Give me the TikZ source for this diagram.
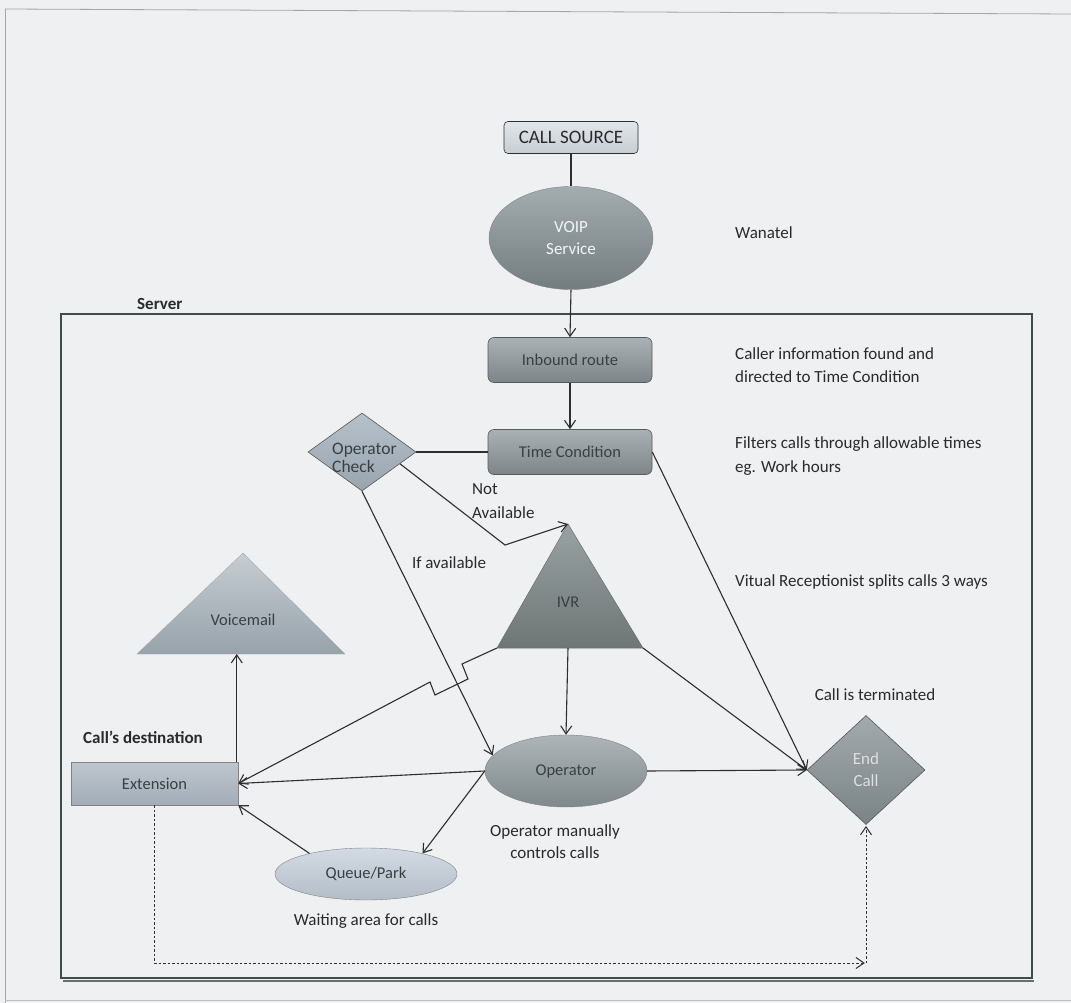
\documentclass[tikz,border=0pt]{standalone}
\usepackage{fontspec}
\setmainfont{Carlito}
\usetikzlibrary{arrows.meta,shapes.geometric,calc}
\definecolor{bgc}{HTML}{EEF0F1}
\definecolor{linec}{HTML}{2E2E2E}
\definecolor{srvc}{HTML}{3F4C49}
\definecolor{txtc}{HTML}{2A2A2A}
\definecolor{nodetxt}{HTML}{3A3F42}
% shading pairs
\definecolor{csHi}{HTML}{E2E6EA}\definecolor{csLo}{HTML}{C6CDD3}
\definecolor{voipHi}{HTML}{A3ACAE}\definecolor{voipLo}{HTML}{737D80}
\definecolor{boxHi}{HTML}{ABB2B5}\definecolor{boxLo}{HTML}{7C8487}
\definecolor{opcHi}{HTML}{B6C1CA}\definecolor{opcLo}{HTML}{98A4AE}
\definecolor{ecHi}{HTML}{A2AAAD}\definecolor{ecLo}{HTML}{7A8385}
\definecolor{opHi}{HTML}{ADB5B8}\definecolor{opLo}{HTML}{7F888B}
\definecolor{qpHi}{HTML}{D3DAE2}\definecolor{qpLo}{HTML}{B3BDC8}
\definecolor{extHi}{HTML}{BEC6CE}\definecolor{extLo}{HTML}{A3ADB7}
\definecolor{ivrHi}{HTML}{99A2A2}\definecolor{ivrLo}{HTML}{6E7776}
\definecolor{vmHi}{HTML}{C6CDD3}\definecolor{vmLo}{HTML}{97A2AA}
\tikzset{
  lnk/.style={draw=linec, line width=1.1pt},
  arr/.style={lnk, -{Straight Barb[length=8pt,width=11pt,line width=1.1pt]}},
  dsh/.style={draw=linec, line width=1pt, dash pattern=on 2.5pt off 2pt, -{Straight Barb[length=8pt,width=11pt,line width=1pt,sep]}},
  shd/.style={top color=#1Hi, bottom color=#1Lo},
  rbox/.style={shd=#1, draw=linec!80, line width=0.6pt, rounded corners=6pt, inner sep=0pt,
     text=nodetxt, font=\fontsize{16.5}{20}\selectfont},
  ell/.style={shd=#1, ellipse, draw=linec!60, line width=0.4pt, inner sep=0pt,
     text=nodetxt, font=\fontsize{16.5}{20}\selectfont, align=center},
  dia/.style={shd=#1, diamond, draw=linec!80, line width=0.6pt, inner sep=0pt, aspect=1.4,
     text=nodetxt, font=\fontsize{17}{22}\selectfont, align=center},
  note/.style={text=txtc, font=\fontsize{17}{23.5}\selectfont, align=left, inner sep=0pt},
  cnote/.style={text=txtc, font=\fontsize{17}{22}\selectfont, align=center, inner sep=0pt},
  bnote/.style={text=txtc, font=\bfseries\fontsize{17}{20}\selectfont, inner sep=0pt},
}
\begin{document}
\begin{tikzpicture}[x=1pt,y=-1pt]
\useasboundingbox (0,0) rectangle (1071,1003);
\fill[bgc] (0,0) rectangle (1071,1003);
% outer page frame
\draw[gray!70, line width=0.8pt] (5,9) -- (1071,14);
\draw[gray!70, line width=0.8pt] (5,9) -- (5,1003);
\draw[gray!50, line width=0.6pt] (5,1000) -- (1071,1000);
% server box
\draw[srvc, line width=2.4pt] (61,314) rectangle (1032,978);
\draw[srvc!80, line width=2pt] (63,981) -- (1034,981);
\node[bnote, anchor=south west] (srvlbl) at (137,310) {Server};

% nodes
\node[rbox=cs, draw=linec, minimum width=134pt, minimum height=32pt, rounded corners=4pt,
      font=\fontsize{19}{22}\selectfont, text=txtc] (cs) at (571,137.5) {CALL SOURCE};
\node[ell=voip, minimum width=164pt, minimum height=103pt, text=white!92!gray, font=\fontsize{17}{22}\selectfont] (voip) at (571,238) {VOIP\\Service};
\node[rbox=box, minimum width=164pt, minimum height=45pt] (inb) at (570,360) {Inbound route};
\node[rbox=box, minimum width=164pt, minimum height=45pt] (tc) at (570,452) {Time Condition};
\node[dia=opc, minimum width=108pt, minimum height=78pt] (opc) at (362,452) {};
\node[text=nodetxt, font=\fontsize{17.5}{17.5}\selectfont, align=left, inner sep=0pt, anchor=west] (opct) at (332,458) {Operator\\Check};
\node[dia=ec, minimum width=118pt, minimum height=109pt, text=gray!25] (ec) at (866,770) {End\\Call};
\node[ell=op, minimum width=162pt, minimum height=72pt] (op) at (566,771) {Operator};
\node[ell=qp, minimum width=182pt, minimum height=52pt] (qp) at (366,874) {Queue/Park};
\node[shd=ext, rectangle, draw=linec!60, line width=0.5pt, inner sep=0pt, minimum width=167pt, minimum height=43pt,
      text=nodetxt, font=\fontsize{16.5}{20}\selectfont] (ext) at (154.5,783.5) {Extension};

% triangles
\coordinate (ivrtop) at (568,524);
\coordinate (ivrbl) at (497,648);
\coordinate (ivrbr) at (643,648);
\coordinate (ivrbm) at (568,648);
\path[shd=ivr, draw=linec!70, line width=0.5pt] (ivrtop) -- (ivrbr) -- (ivrbl) -- cycle;
\node[text=nodetxt, font=\fontsize{16.5}{20}\selectfont] (ivr) at (568,602) {IVR};
\coordinate (vmtop) at (243,553);
\coordinate (vmbl) at (137,654);
\coordinate (vmbr) at (345,654);
\path[shd=vm, draw=linec!40, line width=0.4pt] (vmtop) -- (vmbr) -- (vmbl) -- cycle;
\node[text=nodetxt, font=\fontsize{16.5}{20}\selectfont] (vm) at (243,620) {Voicemail};

% notes
\node[note, anchor=west] (n1) at (735,233) {Wanatel};
\node[note, anchor=west] (n2) at (735,365) {Caller information found and\\directed to Time Condition};
\node[note, anchor=west] (n3) at (735,456) {Filters calls through allowable times\\eg. Work hours};
\node[note, anchor=west] (n4) at (735,582) {Vitual Receptionist splits calls 3 ways};
\node[note, anchor=west] (n5) at (472,501) {Not\\Available};
\node[note] (n6) at (449,563) {If available};
\node[note] (n7) at (875,695) {Call is terminated};
\node[bnote] (n8) at (143,737) {Call's destination};
\node[cnote] (n9) at (555,842) {Operator manually\\controls calls};
\node[note] (n10) at (366,921) {Waiting area for calls};

% connectors
\draw[lnk] (cs.south) -- (voip.north);
\draw[arr] (voip.south) -- (inb.north);
\draw[arr] (inb.south) -- (tc.north);
\draw[lnk] (tc.west) -- (opc.east);
\draw[arr] ($(opc.east)!0.3!(opc.south)$) -- (505,545) -- (ivrtop);
\draw[arr] (opc.south) -- (op.168);
\draw[arr] (tc.east) -- (ec.west);
\draw[arr] (ivrbr) -- (ec.west);
\draw[arr] (ivrbm) -- (op.north);
\draw[arr] (op.east) -- (ec.west);
\draw[arr] (op.west) -- (ext.east);
\draw[arr] (op.west) -- (qp.20);
\draw[arr] (qp.160) -- (ext.south east);
\draw[arr] ([xshift=-1.5pt]ext.north east) -- ([xshift=-1.5pt]ext.north east |- vmbl);
\draw[arr] (ivrbl) -- ++(-35,16) -- ++(6,15) -- ++(-33,16) -- ++(-5,-13) -- (ext.east);
\coordinate (dc) at (866,963);
\draw[dsh] (ext.south) -- (ext.south |- dc) -- (dc);
\draw[dsh] (dc) -- (ec.south);
\end{tikzpicture}
\end{document}
